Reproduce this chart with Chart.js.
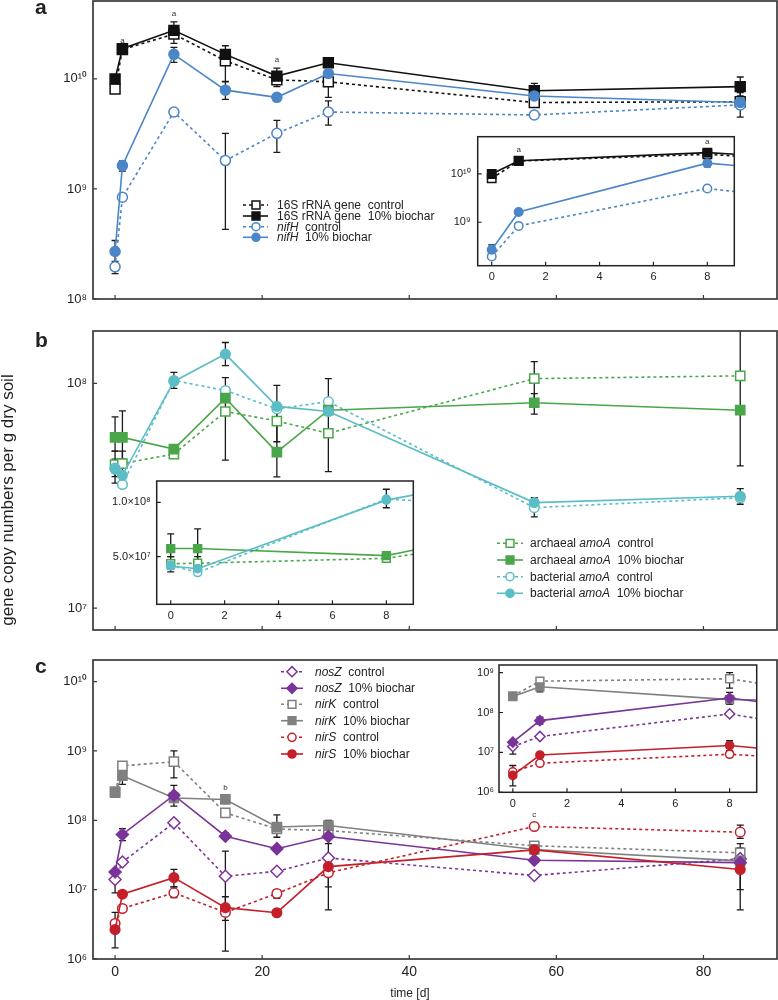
<!DOCTYPE html>
<html><head><meta charset="utf-8">
<script src="https://cdn.jsdelivr.net/npm/chart.js@4/dist/chart.umd.min.js"></script>
<style>
html,body{margin:0;padding:0;background:#fff;}
#wrap{position:relative;width:778px;height:1000px;overflow:hidden;background:#fff;}
canvas{position:absolute;}
</style></head><body><div id="wrap">
<canvas id="ca" style="left:0px;top:0px" width="778" height="305"></canvas>
<canvas id="cb" style="left:0px;top:320px" width="778" height="320"></canvas>
<canvas id="cc" style="left:0px;top:650px" width="778" height="350"></canvas>
<canvas id="ia" style="left:440px;top:130px" width="300" height="155"></canvas>
<canvas id="ib" style="left:90px;top:475px" width="330" height="150"></canvas>
<canvas id="ic" style="left:460px;top:658px" width="305" height="155"></canvas>
</div>
<script>
// ---------- data ----------
const days = [0, 1, 8, 15, 22, 29, 57, 85];

// panel a
const s16Control  = [8.1e9, 1.85e10, 2.55e10, 1.46e10, 9.8e9, 9.4e9, 6.1e9, 6.2e9];
const s16Biochar  = [1.0e10, 1.88e10, 2.76e10, 1.67e10, 1.06e10, 1.4e10, 7.8e9, 8.5e9];
const nifHControl = [1.96e8, 8.4e8, 5.0e9, 1.81e9, 3.2e9, 5.0e9, 4.7e9, 5.8e9];
const nifHBiochar = [2.7e8, 1.63e9, 1.67e10, 7.9e9, 6.8e9, 1.12e10, 7.0e9, 6.1e9];
const s16BiocharErr  = [null, null, [2.45e10,3.3e10], [1.4e10,2.0e10], [9.2e9,1.25e10], [1.3e10,1.5e10], [6.8e9,9.1e9], [7.0e9,1.04e10]];
const s16ControlErr  = [null, null, [2.1e10,2.9e10], [9.5e9,1.6e10], [8.5e9,1.1e10], [6.8e9,1.15e10], [5.6e9,6.8e9], [4.5e9,7.5e9]];
const nifHBiocharErr = [[2.1e8,3.4e8], [1.45e9,1.8e9], [1.41e10,1.93e10], [6.5e9,9.4e9], [6.3e9,7.3e9], null, null, null];
const nifHControlErr = [[1.7e8,2.2e8], null, null, [4.3e8,3.2e9], [2.15e9,4.2e9], [3.8e9,6.3e9], null, null];

// panel b
const archControl = [4.35e7, 4.4e7, 4.85e7, 7.5e7, 6.8e7, 6.0e7, 1.05e8, 1.08e8];
const archBiochar = [5.75e7, 5.75e7, 5.1e7, 8.6e7, 4.95e7, 7.6e7, 8.2e7, 7.6e7];
const bactControl = [4.2e7, 3.55e7, 1.03e8, 9.3e7, 7.7e7, 8.3e7, 2.8e7, 3.1e7];
const bactBiochar = [4.15e7, 3.9e7, 1.02e8, 1.35e8, 7.9e7, 7.5e7, 2.95e7, 3.15e7];
const archBiocharErr = [[5.0e7,7.1e7], [4.6e7,7.55e7], null, [4.56e7,1.06e8], [3.84e7,9.8e7], [4.05e7,1.05e8], [7.3e7,9.0e7], null];
const archControlErr = [[3.85e7,5.0e7], [3.9e7,5.0e7], null, null, [5.5e7,8.0e7], null, [8.5e7,1.25e8], [4.3e7,2.5e8]];
const bactControlErr = [[3.6e7,4.6e7], null, [9.5e7,1.12e8], null, null, null, [2.55e7,3.1e7], null];
const bactBiocharErr = [null, null, null, [1.2e8,1.52e8], null, null, null, [2.9e7,3.4e7]];

// panel c
const nosZControl = [1.4e7, 2.5e7, 9.2e7, 1.56e7, 1.84e7, 2.86e7, 1.6e7, 2.8e7];
const nosZBiochar = [1.8e7, 6.25e7, 2.3e8, 5.9e7, 3.9e7, 5.85e7, 2.65e7, 2.45e7];
const nirKControl = [2.6e8, 6.1e8, 7.0e8, 1.28e8, 7.5e7, 7.1e7, 4.3e7, 3.4e7];
const nirKBiochar = [2.5e8, 4.4e8, 2.1e8, 2.0e8, 8.0e7, 8.4e7, 3.8e7, 2.6e7];
const nirSControl = [3.25e6, 5.35e6, 9.0e6, 4.7e6, 8.8e6, 1.75e7, 8.15e7, 6.75e7];
const nirSBiochar = [2.65e6, 8.6e6, 1.49e7, 5.5e6, 4.65e6, 2.15e7, 3.75e7, 1.95e7];
const nosZControlErr = [[9e6,1.9e7], null, null, [1.3e6,3.6e7], null, null, null, null];
const nosZBiocharErr = [null, [5.1e7,7.6e7], [1.6e8,3.2e8], [5.3e7,6.6e7], null, null, null, [1.0e7,4.0e7]];
const nirKControlErr = [null, null, [4.1e8,1.0e9], null, null, [6.5e7,1.0e8], [3.8e7,4.9e7], [2.6e7,4.6e7]];
const nirKBiocharErr = [null, [3.3e8,5.2e8], null, null, [5.7e7,1.2e8], null, null, null];
const nirSControlErr = [[2.4e6,4.7e6], null, [7.7e6,1.1e7], null, [7.5e6,1.0e7], [1.1e7,2.6e7], null, [5.5e7,8.5e7]];
const nirSBiocharErr = [[1.45e6,3.6e6], null, [1.1e7,1.96e7], [3.6e6,7.9e6], null, [5.1e6,4.6e7], [3.3e7,4.3e7], [5.1e6,2.2e7]];

// ticks
const mainXTicks = [0, 20, 40, 60, 80];
const insetXTicks = [0, 2, 4, 6, 8];
const aYTicks = [1e8, 1e9, 1e10];        const aYLabels = ['10\u2078', '10\u2079', '10\u00B9\u2070'];
const bYTicks = [1e7, 1e8];              const bYLabels = ['10\u2077', '10\u2078'];
const cYTicks = [1e6, 1e7, 1e8, 1e9, 1e10]; const cYLabels = ['10\u2076', '10\u2077', '10\u2078', '10\u2079', '10\u00B9\u2070'];
const iaYTicks = [1e9, 1e10];            const iaYLabels = ['10\u2079', '10\u00B9\u2070'];
const ibYTicks = [5e7, 1e8];             const ibYLabels = ['5.0\u00D710\u2077', '1.0\u00D710\u2078'];
const icYTicks = [1e6, 1e7, 1e8, 1e9];   const icYLabels = ['10\u2076', '10\u2077', '10\u2078', '10\u2079'];

// legend texts: [text, italic]
const legendA = [[['16S rRNA gene  control',0]], [['16S rRNA gene  10% biochar',0]], [['nifH',1],['  control',0]], [['nifH',1],['  10% biochar',0]]];
const legendB = [[['archaeal ',0],['amoA',1],['  control',0]], [['archaeal ',0],['amoA',1],['  10% biochar',0]], [['bacterial ',0],['amoA',1],['  control',0]], [['bacterial ',0],['amoA',1],['  10% biochar',0]]];
const legendC = [[['nosZ',1],['  control',0]], [['nosZ',1],['  10% biochar',0]], [['nirK',1],['  control',0]], [['nirK',1],['  10% biochar',0]], [['nirS',1],['  control',0]], [['nirS',1],['  10% biochar',0]]];

// ---------- styling ----------
const F = "'Liberation Sans', Arial, Helvetica, sans-serif";
const COL = {black:'#111111', blue:'#4a86c8', green:'#4aa64a', cyan:'#5bbdc5', purple:'#7a3399', gray:'#808080', red:'#c41f2a'};

function ds(key, values, err, color, dashed, style, r, filled) {
  return {
    key, label: key,
    data: days.map((d, i) => ({x: d, y: values[i]})),
    errors: err,
    borderColor: color, backgroundColor: filled ? color : '#ffffff',
    pointBackgroundColor: filled ? color : '#ffffff', pointBorderColor: color,
    pointStyle: style, pointRadius: r, pointHoverRadius: r, pointBorderWidth: 1.5,
    borderWidth: 1.6, borderDash: dashed ? [3, 3] : [], tension: 0, fill: false
  };
}

function setA(k) {
  return [
    ds('nifHBiochar', nifHBiochar, nifHBiocharErr, COL.blue, false, 'circle', 5*k, true),
    ds('s16Biochar', s16Biochar, s16BiocharErr, COL.black, false, 'rect', 7*k, true),
    ds('nifHControl', nifHControl, nifHControlErr, COL.blue, true, 'circle', 5*k, false),
    ds('s16Control', s16Control, s16ControlErr, COL.black, true, 'rect', 7*k, false)
  ];
}
function setB(k) {
  return [
    ds('bactBiochar', bactBiochar, bactBiocharErr, COL.cyan, false, 'circle', 4.8*k, true),
    ds('archBiochar', archBiochar, archBiocharErr, COL.green, false, 'rect', 6.5*k, true),
    ds('bactControl', bactControl, bactControlErr, COL.cyan, true, 'circle', 4.8*k, false),
    ds('archControl', archControl, archControlErr, COL.green, true, 'rect', 6.5*k, false)
  ];
}
function setC(k) {
  return [
    ds('nirSBiochar', nirSBiochar, nirSBiocharErr, COL.red, false, 'circle', 4.8*k, true),
    ds('nosZBiochar', nosZBiochar, nosZBiocharErr, COL.purple, false, 'rectRot', 6*k, true),
    ds('nirKBiochar', nirKBiochar, nirKBiocharErr, COL.gray, false, 'rect', 6.5*k, true),
    ds('nirSControl', nirSControl, nirSControlErr, COL.red, true, 'circle', 4.8*k, false),
    ds('nosZControl', nosZControl, nosZControlErr, COL.purple, true, 'rectRot', 6*k, false),
    ds('nirKControl', nirKControl, nirKControlErr, COL.gray, true, 'rect', 6.5*k, false)
  ];
}

// ---------- plugins ----------
const bgPlugin = {
  id: 'bg',
  beforeDraw(chart, args, o) {
    const {ctx, chartArea: a} = chart;
    ctx.save(); ctx.fillStyle = '#ffffff';
    if (o.full) ctx.fillRect(0, 0, chart.width, chart.height);
    else ctx.fillRect(a.left, a.top, a.right - a.left, a.bottom - a.top);
    ctx.restore();
  }
};
const errPlugin = {
  id: 'err',
  beforeDatasetsDraw(chart) {
    const {ctx, chartArea: a, scales: {x, y}} = chart;
    ctx.save(); ctx.beginPath(); ctx.rect(a.left, a.top, a.right - a.left, a.bottom - a.top); ctx.clip();
    ctx.strokeStyle = '#1a1a1a'; ctx.lineWidth = 1.3;
    chart.data.datasets.forEach(d => {
      if (!d.errors) return;
      d.errors.forEach((e, i) => {
        if (!e) return;
        const px = x.getPixelForValue(days[i]);
        const y1 = y.getPixelForValue(e[0]), y2 = y.getPixelForValue(e[1]);
        ctx.beginPath();
        ctx.moveTo(px, y1); ctx.lineTo(px, y2);
        ctx.moveTo(px - 3.5, y1); ctx.lineTo(px + 3.5, y1);
        ctx.moveTo(px - 3.5, y2); ctx.lineTo(px + 3.5, y2);
        ctx.stroke();
      });
    });
    ctx.restore();
  }
};
const framePlugin = {
  id: 'frame',
  afterDraw(chart, args, o) {
    const {ctx, chartArea: a, scales: {x, y}} = chart;
    ctx.save();
    ctx.strokeStyle = o.color || '#333'; ctx.lineWidth = o.width || 1.6;
    ctx.strokeRect(a.left, a.top, a.right - a.left, a.bottom - a.top);
    ctx.lineWidth = 1.2;
    ctx.beginPath();
    x.ticks.forEach(t => { const p = x.getPixelForValue(t.value); ctx.moveTo(p, a.bottom); ctx.lineTo(p, a.bottom - 4); });
    y.ticks.forEach(t => { const p = y.getPixelForValue(t.value); ctx.moveTo(a.left, p); ctx.lineTo(a.left + 4, p); });
    ctx.stroke();
    ctx.restore();
  }
};
const legendPlugin = {
  id: 'customLegend',
  afterDraw(chart, args, o) {
    if (!o || !o.rows) return;
    const ctx = chart.ctx;
    ctx.save();
    o.rows.forEach((row, i) => {
      const d = chart.data.datasets.find(q => q.key === o.keys[i]);
      const yy = o.y[i];
      ctx.strokeStyle = d.borderColor; ctx.lineWidth = 1.6; ctx.setLineDash(d.borderDash);
      ctx.beginPath(); ctx.moveTo(o.x0, yy); ctx.lineTo(o.x1, yy); ctx.stroke();
      ctx.setLineDash([]);
      ctx.fillStyle = d.pointBackgroundColor; ctx.strokeStyle = d.pointBorderColor; ctx.lineWidth = 1.5;
      Chart.helpers.drawPoint(ctx, {pointStyle: d.pointStyle, radius: d.pointRadius * o.mk, rotation: 0, borderWidth: 1.5}, o.mx, yy);
      let tx = o.tx;
      ctx.fillStyle = '#222'; ctx.textBaseline = 'middle'; ctx.textAlign = 'left';
      row.forEach(([txt, it]) => {
        ctx.font = (it ? 'italic ' : '') + o.fs + 'px ' + F;
        ctx.fillText(txt, tx, yy + 0.5);
        tx += ctx.measureText(txt).width;
      });
    });
    ctx.restore();
  }
};
const notesPlugin = {
  id: 'notes',
  afterDraw(chart, args, o) {
    const ctx = chart.ctx; const {x, y} = chart.scales; const a = chart.chartArea;
    ctx.save();
    (o.marks || []).forEach(([dx, val, t]) => {
      const px = x.getPixelForValue(dx), py = y.getPixelForValue(val);
      if (px < a.left || px > a.right) return;
      ctx.fillStyle = '#333'; ctx.font = '8px ' + F; ctx.textAlign = 'center'; ctx.textBaseline = 'alphabetic';
      ctx.fillText(t, px, py - (o.off || 9));
    });
    (o.texts || []).forEach(t => {
      ctx.save();
      ctx.translate(t.x, t.y); if (t.rot) ctx.rotate(t.rot);
      ctx.fillStyle = '#222'; ctx.font = t.font; ctx.textAlign = t.align || 'center'; ctx.textBaseline = t.base || 'alphabetic';
      ctx.fillText(t.text, 0, 0);
      ctx.restore();
    });
    ctx.restore();
  }
};

function zeroPad(s) { s.paddingTop = 0; s.paddingBottom = 0; s.paddingLeft = 0; s.paddingRight = 0; }

function makeChart(id, datasets, o) {
  return new Chart(document.getElementById(id), {
    type: 'line',
    data: {datasets},
    options: {
      responsive: false, animation: false, devicePixelRatio: 1,
      layout: {autoPadding: false, padding: {top: o.pt, right: o.pr, left: 0, bottom: 0}},
      plugins: {
        legend: {display: false}, tooltip: {enabled: false},
        bg: {full: !o.inset},
        frame: {width: o.inset ? 1.5 : 1.7, color: o.inset ? '#222' : '#3a3a3a'},
        customLegend: o.legend || {},
        notes: {marks: o.marks || [], texts: o.texts || [], off: o.off}
      },
      scales: {
        x: {
          type: 'linear', min: o.xmin, max: o.xmax,
          grid: {display: false, drawTicks: false}, border: {display: false},
          ticks: {display: o.xLabels, padding: o.xpad || 5, color: '#222', font: {family: F, size: o.xfs || 12}, autoSkip: false, maxRotation: 0, callback: v => String(v)},
          afterBuildTicks: s => { s.ticks = o.xticks.map(v => ({value: v})); },
          afterFit: s => { s.height = o.xh; zeroPad(s); }
        },
        y: {
          type: o.ylog ? 'logarithmic' : 'linear', min: o.ymin, max: o.ymax,
          grid: {display: false, drawTicks: false}, border: {display: false},
          ticks: {padding: o.ypad || 6, color: '#222', font: {family: F, size: o.yfs || 12}, autoSkip: false, callback: (v, i) => o.ylabels[i]},
          afterBuildTicks: s => { s.ticks = o.yticks.map(v => ({value: v})); },
          afterFit: s => { s.width = o.yw; zeroPad(s); }
        }
      }
    },
    plugins: [bgPlugin, errPlugin, framePlugin, legendPlugin, notesPlugin]
  });
}

// ---------- main panels ----------
makeChart('ca', setA(1), {
  pt: 1, pr: 1, xh: 6, yw: 93, xmin: -3, xmax: 90, xticks: mainXTicks, xLabels: false,
  ylog: true, ymin: 1e8, ymax: 5.1e10, yticks: aYTicks, ylabels: aYLabels, yfs: 13, ypad: 6,
  legend: {rows: legendA, keys: ['s16Control', 's16Biochar', 'nifHControl', 'nifHBiochar'], y: [205, 216, 226.7, 237.3], x0: 243, x1: 268, mx: 256, tx: 277, fs: 12, mk: 0.8},
  marks: [[1, s16Biochar[1], 'a'], [8, 3.3e10, 'a'], [22, 1.25e10, 'a']], off: 6,
  texts: [{text: 'a', x: 35, y: 13.5, font: 'bold 21px ' + F, align: 'left'}]
});
makeChart('cb', setB(1), {
  pt: 11, pr: 1, xh: 10, yw: 93, xmin: -3, xmax: 90, xticks: mainXTicks, xLabels: false,
  ylog: true, ymin: 8.0e6, ymax: 1.71e8, yticks: bYTicks, ylabels: bYLabels, yfs: 13, ypad: 6,
  legend: {rows: legendB, keys: ['archControl', 'archBiochar', 'bactControl', 'bactBiochar'], y: [223.3, 240, 256.7, 273.3], x0: 497, x1: 523, mx: 510, tx: 530, fs: 12, mk: 0.85},
  texts: [
    {text: 'b', x: 35, y: 26.7, font: 'bold 21px ' + F, align: 'left'},
    {text: 'gene copy numbers per g dry soil', x: 13, y: 180, rot: -Math.PI / 2, font: '17px ' + F, align: 'center', base: 'alphabetic'}
  ]
});
makeChart('cc', setC(1), {
  pt: 10, pr: 1, xh: 41, yw: 93, xmin: -3, xmax: 90, xticks: mainXTicks, xLabels: true, xfs: 14, xpad: 5,
  ylog: true, ymin: 1e6, ymax: 2.05e10, yticks: cYTicks, ylabels: cYLabels, yfs: 13, ypad: 6,
  legend: {rows: legendC, keys: ['nosZControl', 'nosZBiochar', 'nirKControl', 'nirKBiochar', 'nirSControl', 'nirSBiochar'], y: [21.7, 38.3, 54.3, 70.7, 87.3, 104], x0: 281, x1: 303, mx: 292, tx: 315, fs: 12, mk: 0.85},
  marks: [[15, nirKBiochar[3], 'b'], [57, nirSControl[6], 'c']], off: 9,
  texts: [
    {text: 'c', x: 35, y: 23.3, font: 'bold 21px ' + F, align: 'left'},
    {text: 'time [d]', x: 410, y: 347, font: '12px ' + F, align: 'center'}
  ]
});

// ---------- insets ----------
makeChart('ia', setA(0.85), {
  inset: true, pt: 6.7, pr: 5.7, xh: 19.3, yw: 37.7, xmin: -0.52, xmax: 9, xticks: insetXTicks, xLabels: true, xfs: 11, xpad: 5,
  ylog: true, ymin: 1.26e8, ymax: 5.9e10, yticks: iaYTicks, ylabels: iaYLabels, yfs: 11, ypad: 7,
  marks: [[1, s16Biochar[1], 'a'], [8, s16Biochar[2], 'a']], off: 9
});
makeChart('ib', setB(0.85), {
  inset: true, pt: 6, pr: 6.7, xh: 20.7, yw: 66.7, xmin: -0.52, xmax: 9, xticks: insetXTicks, xLabels: true, xfs: 11, xpad: 5,
  ylog: false, ymin: 6.25e6, ymax: 1.196e8, yticks: ibYTicks, ylabels: ibYLabels, yfs: 11, ypad: 6
});
makeChart('ic', setC(0.85), {
  inset: true, pt: 7, pr: 8.3, xh: 20.7, yw: 39, xmin: -0.51, xmax: 9, xticks: insetXTicks, xLabels: true, xfs: 11, xpad: 5,
  ylog: true, ymin: 1e6, ymax: 1.55e9, yticks: icYTicks, ylabels: icYLabels, yfs: 11, ypad: 5
});
</script>
</body></html>
